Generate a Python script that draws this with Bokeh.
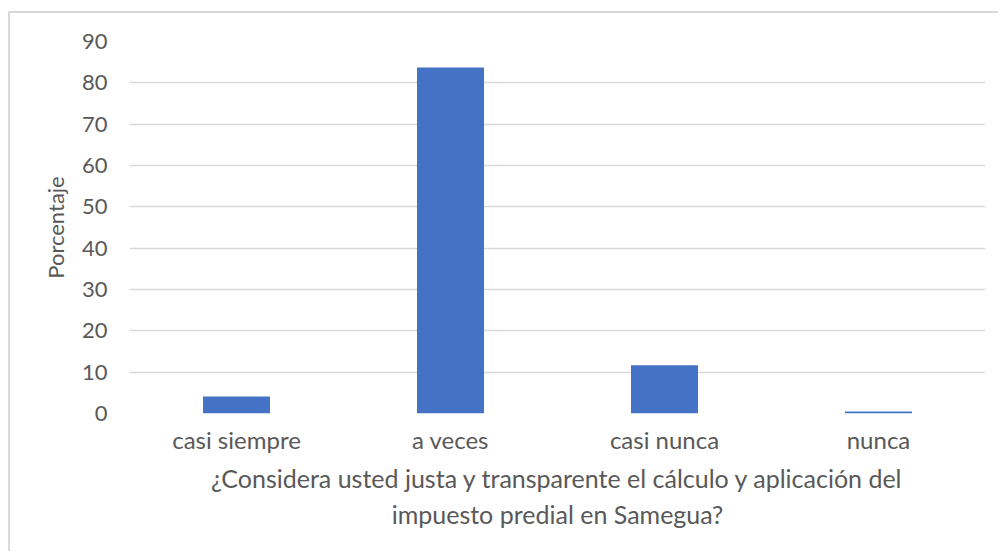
from bokeh.plotting import figure
from bokeh.models import ColumnDataSource, FactorRange, Range1d, FixedTicker
from bokeh.embed import file_html
from bokeh.resources import INLINE

categories = ["casi siempre", "a veces", "casi nunca", "nunca"]
values = [4.1, 83.7, 11.7, 0.5]
y_ticks = [0, 10, 20, 30, 40, 50, 60, 70, 80, 90]

FONT = "Lato"
TXT = "#595959"

src = ColumnDataSource(dict(cat=categories, val=values))

p = figure(x_range=FactorRange(*categories, range_padding=0),
           y_range=Range1d(0, 90),
           width=990, height=540,
           output_backend="svg", toolbar_location=None,
           min_border_left=119, min_border_right=15,
           min_border_top=28, min_border_bottom=140)
p.styles = {"margin-top": "11px", "margin-left": "8px",
            "border-top": "2px solid #d9d9d9",
            "border-left": "2px solid #d9d9d9"}

p.vbar(x="cat", top="val", width=0.313, source=src, color="#4472c4", line_color=None)

p.outline_line_color = None
p.xgrid.grid_line_color = None
p.ygrid.grid_line_color = "#d9d9d9"
p.ygrid.grid_line_width = 1.5
p.yaxis.ticker = FixedTicker(ticks=y_ticks)

for ax in (p.xaxis[0], p.yaxis[0]):
    ax.axis_line_color = None
    ax.major_tick_line_color = None
    ax.minor_tick_line_color = None
    ax.major_label_text_font = FONT
    ax.major_label_text_color = TXT
    ax.axis_label_text_font = FONT
    ax.axis_label_text_color = TXT
    ax.axis_label_text_font_style = "normal"

p.xaxis.major_label_text_font_size = "24px"
p.yaxis.major_label_text_font_size = "22px"
p.yaxis.axis_label_text_font_size = "22px"
p.xaxis.axis_label_text_font_size = "25px"
p.yaxis.major_label_standoff = 16
p.yaxis.axis_label = "Porcentaje"
p.yaxis.axis_label_standoff = 10
p.xaxis.major_label_standoff = 5
p.xaxis.axis_label = "¿Considera usted justa y transparente el cálculo y aplicación del\nimpuesto predial en Samegua?"
p.xaxis.axis_label_standoff = 6

open("out.html", "w").write(file_html(p, INLINE))
